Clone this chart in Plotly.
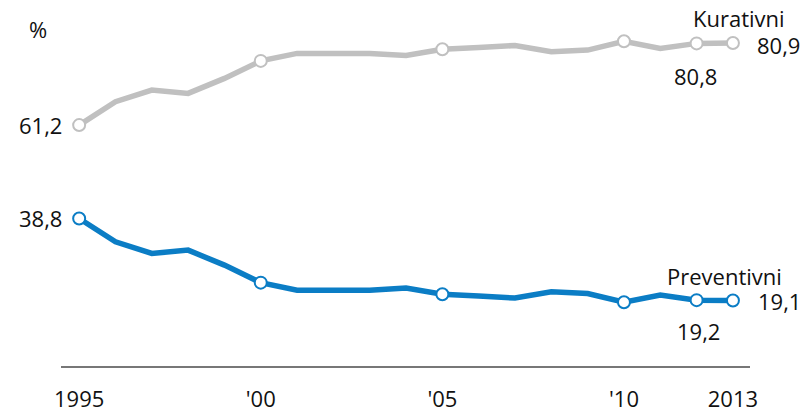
import plotly.graph_objects as go

# Share of curative vs. preventive spending, in percent
years = list(range(1995, 2014))
kurativni = [61.2, 66.8, 69.6, 68.8, 72.4, 76.6, 78.4, 78.4, 78.4, 77.9,
             79.4, 79.8, 80.3, 78.8, 79.2, 81.3, 79.6, 80.8, 80.9]
preventivni = [38.8, 33.2, 30.4, 31.2, 27.6, 23.4, 21.6, 21.6, 21.6, 22.1,
               20.6, 20.2, 19.7, 21.2, 20.8, 18.7, 20.4, 19.2, 19.1]
marker_years = [1995, 2000, 2005, 2010, 2012, 2013]
tick_vals = [1995, 2000, 2005, 2010, 2013]
tick_text = ["1995", "'00", "'05", "'10", "2013"]

GREY = "#c0c0c0"
BLUE = "#0b7dc5"
FONT = "Open Sans"
TXT = "#111"
SIZE = 22

W, H = 801, 412
L, R, T, B = 61, 51, 21, 46

fig = go.Figure()
for vals, col in [(kurativni, GREY), (preventivni, BLUE)]:
    fig.add_trace(go.Scatter(x=years, y=vals, mode="lines",
                             line=dict(color=col, width=5.5),
                             hoverinfo="skip", showlegend=False))
    mx = [y for y in years if y in marker_years]
    my = [v for y, v in zip(years, vals) if y in marker_years]
    fig.add_trace(go.Scatter(x=mx, y=my, mode="markers",
                             marker=dict(size=12, color="white",
                                         line=dict(color=col, width=2)),
                             hoverinfo="skip", showlegend=False))

def label(x, y, text, xanchor="center", xshift=0, yshift=0):
    fig.add_annotation(x=x, y=y, xref="x", yref="y", text=text, showarrow=False,
                       xanchor=xanchor, yanchor="middle", xshift=xshift,
                       yshift=yshift, font=dict(family=FONT, size=SIZE, color=TXT))

label(1995, kurativni[0], "61,2", "right", -15)
label(1995, preventivni[0], "38,8", "right", -15)
label(2013, kurativni[-1], "80,9", "left", 22, -2)
label(2012, kurativni[-2], "80,8", "center", -1, -33)
label(2013, preventivni[-1], "19,1", "left", 23, 0)
label(2012, preventivni[-2], "19,2", "center", 2, -31)
label(2013, kurativni[-1], "Kurativni", "left", -42, 25)
label(2013, preventivni[-1], "Preventivni", "left", -68, 25)

# unit marker in the top-left corner (paper coords relative to the plot area)
pw, ph = W - L - R, H - T - B
fig.add_annotation(x=(38 - L) / pw, y=(H - B - 29) / ph, xref="paper", yref="paper",
                   text="%", showarrow=False, xanchor="center", yanchor="middle",
                   font=dict(family=FONT, size=SIZE, color=TXT))

fig.update_layout(
    width=W, height=H,
    margin=dict(l=L, r=R, t=T, b=B, autoexpand=False),
    paper_bgcolor="white", plot_bgcolor="white",
    font=dict(family=FONT, size=SIZE, color=TXT),
    xaxis=dict(range=[1994.5, 2013.47], tickvals=tick_vals, ticktext=tick_text,
               showgrid=False, zeroline=False, showline=True, automargin=False,
               linecolor="#777", linewidth=2, ticks="outside",
               ticklen=13, tickcolor="rgba(0,0,0,0)",
               tickfont=dict(family=FONT, size=SIZE, color=TXT)),
    yaxis=dict(range=[3.4, 86.17], visible=False, automargin=False),
)

fig.write_html("out.html")
